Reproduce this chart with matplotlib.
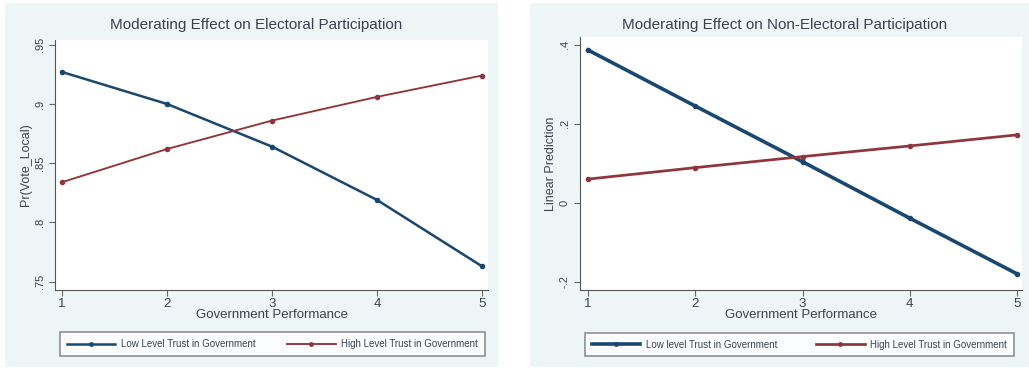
import matplotlib
matplotlib.use('Agg')
import matplotlib.pyplot as plt
from matplotlib.patches import Rectangle
from matplotlib.lines import Line2D

plt.rcParams['font.family'] = ['Liberation Sans', 'DejaVu Sans']

# data
perf = [1, 2, 3, 4, 5]
elec_low = [0.927, 0.900, 0.864, 0.819, 0.763]
elec_high = [0.834, 0.862, 0.886, 0.906, 0.924]
nonelec_low = [0.387, 0.245, 0.104, -0.039, -0.180]
nonelec_high = [0.060, 0.089, 0.117, 0.144, 0.172]

elec_ticks = [0.75, 0.80, 0.85, 0.90, 0.95]
elec_ticklabels = ['.75', '.8', '.85', '.9', '.95']
nonelec_ticks = [-0.2, 0.0, 0.2, 0.4]
nonelec_ticklabels = ['-.2', '0', '.2', '.4']

navy = '#1a476f'
maroon = '#90353b'
txt = '#3a4250'
bg = '#eef5f7'

W, H = 1029, 370
fig = plt.figure(figsize=(W / 100, H / 100), dpi=100)
fig.patch.set_facecolor('white')

# light graph-region backgrounds
fig.patches.append(Rectangle((5 / W, 3 / H), 493 / W, 364 / H, transform=fig.transFigure,
                             facecolor=bg, edgecolor='none', zorder=-5))
fig.patches.append(Rectangle((530 / W, 3 / H), 499 / W, 364 / H, transform=fig.transFigure,
                             facecolor=bg, edgecolor='none', zorder=-5))


def panel(rect, low, high, ylim, xlim, ticks, ticklabels, title, title_x, ylabel, lw,
          leg_rect, low_label, high_label):
    ax = fig.add_axes(rect)
    ax.set_zorder(2)
    ax.set_facecolor('white')
    ax.plot(perf, low, color=navy, lw=lw, marker='o', ms=3)
    ax.plot(perf, high, color=maroon, lw=lw * 0.75, marker='o', ms=3)
    ax.set_xlim(*xlim)
    ax.set_ylim(*ylim)
    ax.set_xticks(perf)
    ax.set_yticks(ticks)
    ax.set_yticklabels(ticklabels, rotation=90, va='center')
    ax.tick_params(colors='#666666', labelcolor=txt, labelsize=8, length=4)
    ax.tick_params(axis='x', labelsize=9.5, pad=2)
    for s in ['top', 'right']:
        ax.spines[s].set_visible(False)
    for s in ['left', 'bottom']:
        ax.spines[s].set_color('#555555')
    # title is centred on the whole panel, not the plot area
    fig.text(title_x, 1 - 25 / H, title, fontsize=11, color=txt, ha='center', va='center')
    ax.set_ylabel(ylabel, fontsize=9, color=txt, labelpad=2)
    ax.set_xlabel('Government Performance', fontsize=9.5, color=txt, labelpad=-1)
    handles = [Line2D([], [], color=navy, lw=lw, marker='o', ms=2.5),
               Line2D([], [], color=maroon, lw=lw * 0.75, marker='o', ms=2.5)]
    leg = ax.legend(handles, [low_label, high_label], loc='center', ncol=2,
                    bbox_to_anchor=leg_rect, bbox_transform=fig.transFigure,
                    mode='expand', fontsize=7, frameon=True, fancybox=False,
                    handlelength=5, handletextpad=0.6, borderpad=0.7,
                    borderaxespad=0)
    leg.get_frame().set_edgecolor('#777777')
    leg.get_frame().set_linewidth(1.2)
    for t in leg.get_texts():
        t.set_color(txt)
    return ax


panel([55 / W, 80 / H, 433 / W, 250 / H], elec_low, elec_high,
      (0.743, 0.954), (0.933, 5.057), elec_ticks, elec_ticklabels,
      'Moderating Effect on Electoral Participation', 256 / W, 'Pr(Vote_Local)', 1.8,
      (60 / W, 12 / H, 425 / W, 28 / H),
      'Low Level Trust in Government', 'High Level Trust in Government')

panel([580 / W, 80 / H, 442 / W, 253 / H], nonelec_low, nonelec_high,
      (-0.221, 0.420), (0.925, 5.047), nonelec_ticks, nonelec_ticklabels,
      'Moderating Effect on Non-Electoral Participation', 785 / W, 'Linear Prediction', 2.6,
      (585 / W, 13 / H, 429 / W, 25 / H),
      'Low level Trust in Government', 'High Level Trust in Government')

fig.savefig('out.png', dpi=100)
